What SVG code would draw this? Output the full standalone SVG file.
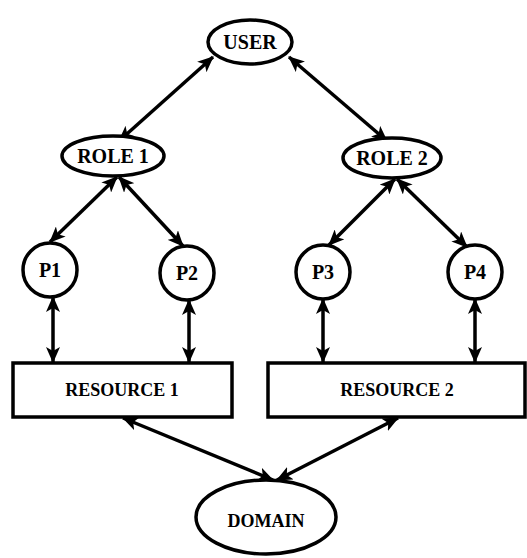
<svg xmlns="http://www.w3.org/2000/svg" width="527" height="558" viewBox="0 0 527 558">
<defs>
<marker id="ah" markerUnits="userSpaceOnUse" markerWidth="16" markerHeight="14" refX="15" refY="7" orient="auto-start-reverse" viewBox="0 0 16 14">
<path d="M0,0 L16,7 L0,14 L4,7 z" fill="#000"/>
</marker>
</defs>
<style>
.shape{fill:#fff;stroke:#000;stroke-width:3.5}
.lbl{font-family:"Liberation Serif",serif;font-weight:bold;font-size:20px;text-anchor:middle;dominant-baseline:central;fill:#000}
.sm{font-size:18px}
.con line{stroke:#000;stroke-width:3.5;marker-start:url(#ah);marker-end:url(#ah)}
</style>
<rect width="527" height="558" fill="#fff"/>
<g id="connectors" class="con">
<line x1="213" y1="57" x2="119" y2="141"/>
<line x1="289" y1="57" x2="387" y2="141"/>
<line x1="117" y1="177" x2="50" y2="242"/>
<line x1="119" y1="177" x2="183" y2="246"/>
<line x1="395" y1="179" x2="329" y2="245"/>
<line x1="397" y1="179" x2="467" y2="247"/>
<line x1="53" y1="297" x2="53" y2="362"/>
<line x1="189" y1="300" x2="189" y2="362"/>
<line x1="323" y1="299" x2="323" y2="362"/>
<line x1="475" y1="299" x2="475" y2="362"/>
<line x1="123" y1="418" x2="273" y2="480"/>
<line x1="398" y1="418" x2="277" y2="480"/>
</g>
<g id="user"><ellipse class="shape" cx="250" cy="42" rx="42" ry="22"/><text class="lbl" x="250" y="42">USER</text></g>
<g id="role1"><ellipse class="shape" cx="113" cy="156" rx="51" ry="20"/><text class="lbl" x="113" y="156">ROLE 1</text></g>
<g id="role2"><ellipse class="shape" cx="392" cy="158" rx="49" ry="20"/><text class="lbl" x="392" y="158">ROLE 2</text></g>
<g id="p1"><circle class="shape" cx="50" cy="270" r="27"/><text class="lbl" x="50" y="270">P1</text></g>
<g id="p2"><circle class="shape" cx="187" cy="273" r="27"/><text class="lbl" x="187" y="273">P2</text></g>
<g id="p3"><circle class="shape" cx="323" cy="272" r="27"/><text class="lbl" x="323" y="272">P3</text></g>
<g id="p4"><circle class="shape" cx="475" cy="272" r="27"/><text class="lbl" x="475" y="272">P4</text></g>
<g id="resource1"><rect class="shape" x="13" y="363" width="219" height="54"/><text class="lbl sm" x="122" y="390">RESOURCE 1</text></g>
<g id="resource2"><rect class="shape" x="268" y="363" width="257" height="54"/><text class="lbl sm" x="397" y="390">RESOURCE 2</text></g>
<g id="domain"><ellipse class="shape" cx="266" cy="517" rx="70" ry="37"/><text class="lbl sm" x="266" y="521">DOMAIN</text></g>
</svg>
